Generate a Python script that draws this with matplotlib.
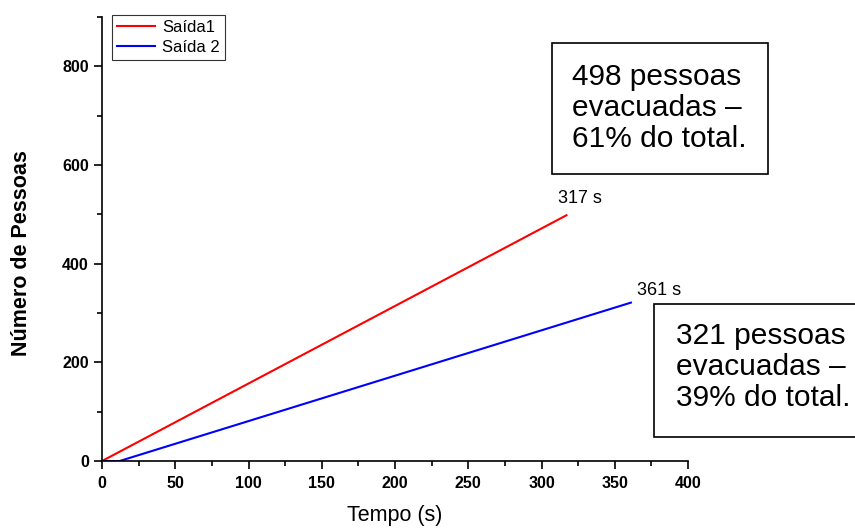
import matplotlib.pyplot as plt
from matplotlib.patches import Rectangle
from matplotlib.ticker import MultipleLocator

plt.rcParams['font.family'] = ['Liberation Sans', 'DejaVu Sans']

# Data
tempo_saida1 = [0, 317]
pessoas_saida1 = [0, 498]
tempo_saida2 = [0, 12, 361]
pessoas_saida2 = [0, 0, 321]

W, H = 855, 529
fig = plt.figure(figsize=(W / 100, H / 100), dpi=100)
ax = fig.add_axes([0.1193, 0.1285, 0.6854, 0.8395])

ax.plot(tempo_saida1, pessoas_saida1, color='red', lw=1.5, label='Saída1')
ax.plot(tempo_saida2, pessoas_saida2, color='blue', lw=1.5, label='Saída 2')

ax.set_xlim(0, 400)
ax.set_ylim(0, 900)
ax.xaxis.set_major_locator(MultipleLocator(50))
ax.xaxis.set_minor_locator(MultipleLocator(25))
ax.yaxis.set_major_locator(MultipleLocator(200))
ax.yaxis.set_minor_locator(MultipleLocator(100))
ax.spines['top'].set_visible(False)
ax.spines['right'].set_visible(False)
ax.spines['left'].set_linewidth(1.2)
ax.spines['bottom'].set_linewidth(1.2)
ax.tick_params(which='major', direction='out', length=6, width=1.2, labelsize=11.5)
ax.tick_params(which='minor', direction='out', length=3.5, width=1.2)
ax.tick_params(axis='x', which='major', pad=5)
for lbl in ax.get_xticklabels() + ax.get_yticklabels():
    lbl.set_fontweight('bold')

ax.set_xlabel('Tempo (s)', fontsize=15.5, labelpad=10)
ax.set_ylabel('Número de Pessoas', fontsize=15.5, fontweight='bold')
ax.yaxis.set_label_coords(-0.1195, 0.468)

leg = ax.legend(loc='upper left', bbox_to_anchor=(0.017, 1.0045), borderaxespad=0,
                fontsize=12, frameon=True, fancybox=False, handlelength=2.3,
                borderpad=0.3, labelspacing=0.3, handletextpad=0.4)
leg.get_frame().set_edgecolor('black')
leg.get_frame().set_linewidth(0.8)

ax.text(311, 522, '317 s', fontsize=13)
ax.text(365, 336, '361 s', fontsize=13)

# text boxes (pixel layout of the reference)
def caixa(x0, y0, x1, y1, tx, ty, texto):
    fig.add_artist(Rectangle((x0 / W, 1 - y1 / H), (x1 - x0) / W, (y1 - y0) / H,
                             transform=fig.transFigure, facecolor='white',
                             edgecolor='black', lw=1.2, clip_on=False))
    fig.text(tx / W, 1 - ty / H, texto, fontsize=21.5,
             linespacing=1.13, va='center', ha='left')

caixa(552, 43, 768, 174, 572, 108, '498 pessoas\nevacuadas –\n61% do total.')
caixa(654, 304, 870, 437, 676, 367, '321 pessoas\nevacuadas –\n39% do total.')

fig.savefig('out.png', dpi=100)
